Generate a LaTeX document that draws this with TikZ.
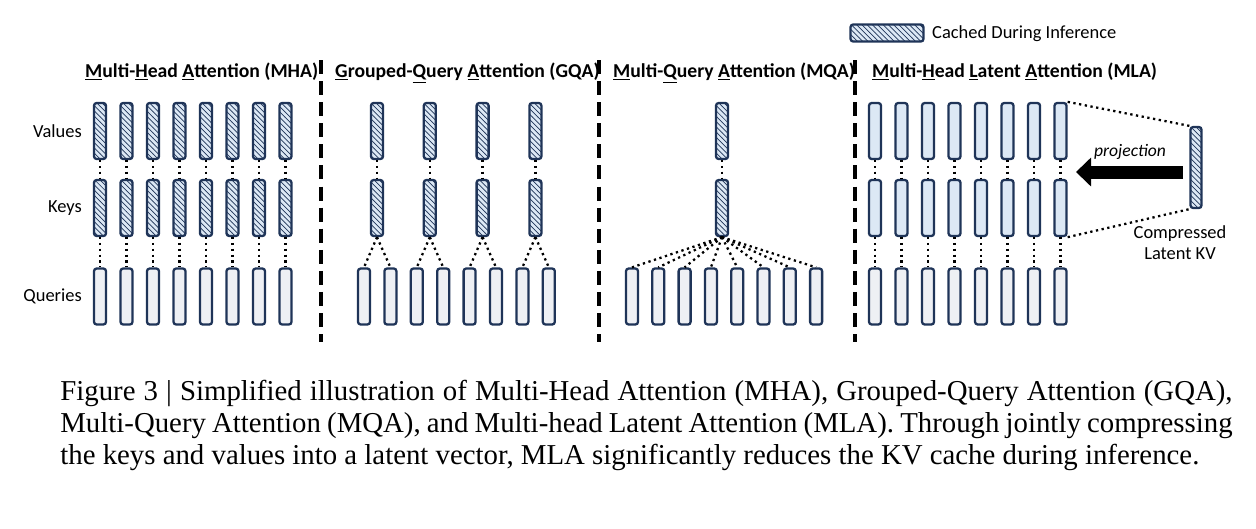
\documentclass[tikz,border=0pt]{standalone}
\usepackage{fontspec}
\setmainfont{Liberation Serif}
\newfontfamily\calib{Carlito}
\usetikzlibrary{patterns,arrows.meta}
\definecolor{navy}{HTML}{1F3458}
\definecolor{lblue}{HTML}{DCE8F5}
\definecolor{lgray}{HTML}{EEF0F4}
\tikzset{
  vec/.style={draw=navy,line width=1.3pt,rounded corners=1.5pt,minimum width=0.24cm,minimum height=1.12cm,inner sep=0pt},
  cached/.style={vec,fill=lblue,postaction={pattern=north west lines,pattern color=navy}},
  plain/.style={vec,fill=lblue},
  query/.style={vec,fill=lgray},
  dots/.style={line width=1.3pt,dotted},
  sep/.style={line width=2pt,dash pattern=on 8pt off 4pt},
  lab/.style={font=\calib\fontsize{10.5}{12}\selectfont},
  ttl/.style={font=\calib\bfseries\fontsize{11.2}{12}\selectfont,anchor=base west}
}
\begin{document}
\begin{tikzpicture}[x=0.02cm,y=-0.02cm]
\useasboundingbox (0,0) rectangle (1256,528);
\pgfmathsetmacro{\vy}{131}
\pgfmathsetmacro{\ky}{208}
\pgfmathsetmacro{\qy}{296.5}
% legend
\node[cached,minimum width=1.46cm,minimum height=0.34cm] (leg) at (887,33) {};
\node[lab,anchor=west] (legt) at (926,34) {Cached During Inference};
% titles
\node[ttl] (t1) at (79,77) {\underline{M}ulti-\underline{H}ead \underline{A}ttention (MHA)};
\node[ttl] (t2) at (329,77) {\underline{G}rouped-\underline{Q}uery \underline{A}ttention (GQA)};
\node[ttl] (t3) at (607,77) {\underline{M}ulti-\underline{Q}uery \underline{A}ttention (MQA)};
\node[ttl] (t4) at (866,77) {\underline{M}ulti-\underline{H}ead \underline{L}atent \underline{A}ttention (MLA)};
% separators
\foreach \xs in {321,599,855}{\draw[sep](\xs,60)--(\xs,342);}
% row labels
\node[lab,anchor=east] (lv) at (88,\vy) {Values};
\node[lab,anchor=east] (lk) at (88,\ky) {Keys};
\node[lab,anchor=east] (lq) at (88,\qy) {Queries};
% MHA
\foreach \i in {1,...,8}{
  \pgfmathsetmacro{\xc}{100+(\i-1)*26.5}
  \node[cached] (mv\i) at (\xc,\vy) {};
  \node[cached] (mk\i) at (\xc,\ky) {};
  \node[query] (mq\i) at (\xc,\qy) {};
  \draw[dots](mv\i)--(mk\i);
  \draw[dots](mk\i)--(mq\i);
}
% GQA
\foreach \i in {1,...,4}{
  \pgfmathsetmacro{\xc}{377+(\i-1)*52.8}
  \node[cached] (gv\i) at (\xc,\vy) {};
  \node[cached] (gk\i) at (\xc,\ky) {};
  \draw[dots](gv\i)--(gk\i);
}
\foreach \i in {1,...,8}{
  \pgfmathsetmacro{\xc}{364+(\i-1)*26.4}
  \node[query] (gq\i) at (\xc,\qy) {};
  \pgfmathtruncatemacro{\g}{(\i+1)/2}
  \draw[dots](gk\g.south)--(gq\i.north);
}
% MQA
\node[cached] (qv) at (722,\vy) {};
\node[cached] (qk) at (722,\ky) {};
\draw[dots](qv)--(qk);
\foreach \i in {1,...,8}{
  \pgfmathsetmacro{\xc}{632+(\i-1)*26.3}
  \node[query] (qq\i) at (\xc,\qy) {};
  \draw[dots](qk.south)--(qq\i.north);
}
% MLA
\foreach \i in {1,...,8}{
  \pgfmathsetmacro{\xc}{875+(\i-1)*26.5}
  \node[plain] (lv\i) at (\xc,\vy) {};
  \node[plain] (lk\i) at (\xc,\ky) {};
  \node[query] (lq\i) at (\xc,\qy) {};
  \draw[dots](lv\i)--(lk\i);
  \draw[dots](lk\i)--(lq\i);
}
\node[cached,minimum width=0.22cm,minimum height=1.62cm] (kv) at (1196,167.5) {};
\draw[dots](lv8.north east)--(kv.north west);
\draw[dots](lk8.south east)--(kv.south west);
\node[font=\calib\itshape\fontsize{10}{12}\selectfont] (proj) at (1130,152) {projection};
\node[lab,align=center] (kvt) at (1180,243) {Compressed\\Latent KV};
\draw[line width=0.26cm,-{Triangle[length=0.3cm,width=0.56cm]}] (1183,172) coordinate (ast) -- (1076,172) coordinate (aend);
% caption
\node[anchor=north west,text width=23.45cm,align=justify,inner sep=0pt,font=\fontsize{16.4}{18.3}\selectfont] (cap) at (60,380)
{Figure 3 | Simplified illustration of Multi-Head Attention (MHA), Grouped-Query Atten\-tion (GQA), Multi-Query Attention (MQA), and Multi-head Latent Attention (MLA). Through jointly compressing the keys and values into a latent vector, MLA significantly reduces the KV cache during inference.};
\end{tikzpicture}
\end{document}
